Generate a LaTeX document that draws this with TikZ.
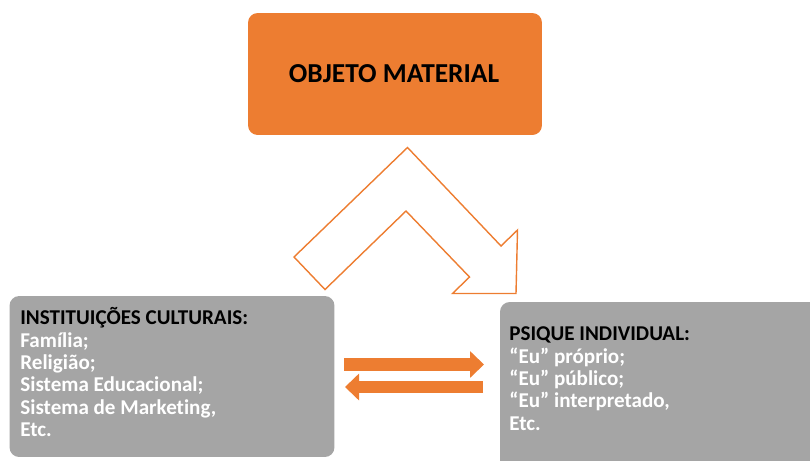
\documentclass[tikz,border=0pt]{standalone}
\usepackage{fontspec}
\setmainfont{Carlito}[Ligatures=NoCommon]
\usetikzlibrary{arrows.meta,positioning}

\definecolor{laranja}{HTML}{ED7D31}
\definecolor{cinza}{HTML}{A5A5A5}

\tikzset{
  caixa/.style={rounded corners=5.5pt, fill=#1, inner sep=0pt},
  % base of a multi-line node sits on its last line
  lista/.style={anchor=base west, align=left, inner sep=0pt,
    font=\bfseries\fontsize{12}{12.7}\selectfont, text=white},
  troca/.style={laranja, line width=0.25cm, -{Triangle[length=0.28cm,width=0.52cm]}},
}

\begin{document}
\begin{tikzpicture}[x=0.02cm,y=-0.02cm]
\useasboundingbox (0,0) rectangle (810,460);
\clip (0,0) rectangle (810,460);

% the three boxes
\node[caixa=laranja, minimum width=5.88cm, minimum height=2.44cm] (objeto) at (395,74) {};
\node[font=\bfseries\fontsize{15.6}{18}\selectfont] (titulo) at (394,74) {OBJETO MATERIAL};

\node[caixa=cinza, minimum width=6.5cm, minimum height=3.22cm] (cultura) at (172,376.5) {};
\node[lista] (instituicoes) at (20,436.5) {\textcolor{black}{INSTITUIÇÕES CULTURAIS:}\\
  Família;\\ Religião;\\ Sistema Educacional;\\ Sistema de Marketing,\\ Etc.};

\node[caixa=cinza, minimum width=6.6cm, minimum height=3.56cm] (psique) at (665,391) {};
\node[lista] (eus) at (509,430) {\textcolor{black}{PSIQUE INDIVIDUAL:}\\
  “Eu” próprio;\\ “Eu” público;\\ “Eu” interpretado,\\ Etc.};

% bent outline arrow under the top box
\draw[laranja, line width=0.8pt, line join=miter]
  (407.5,147.5) -- (294,257) -- (325,289.5) -- (406,211) -- (469.5,277)
  -- (452.5,293.5) -- (516,293.5) -- (517.5,230) -- (501,246) -- cycle;

% exchange between the two grey boxes
\coordinate (ida0) at (344,364.5);
\coordinate (ida1) at (484,364.5);
\coordinate (volta0) at (483,387);
\coordinate (volta1) at (345,387);
\draw[troca] (ida0) -- (ida1);
\draw[troca] (volta0) -- (volta1);
\end{tikzpicture}
\end{document}
